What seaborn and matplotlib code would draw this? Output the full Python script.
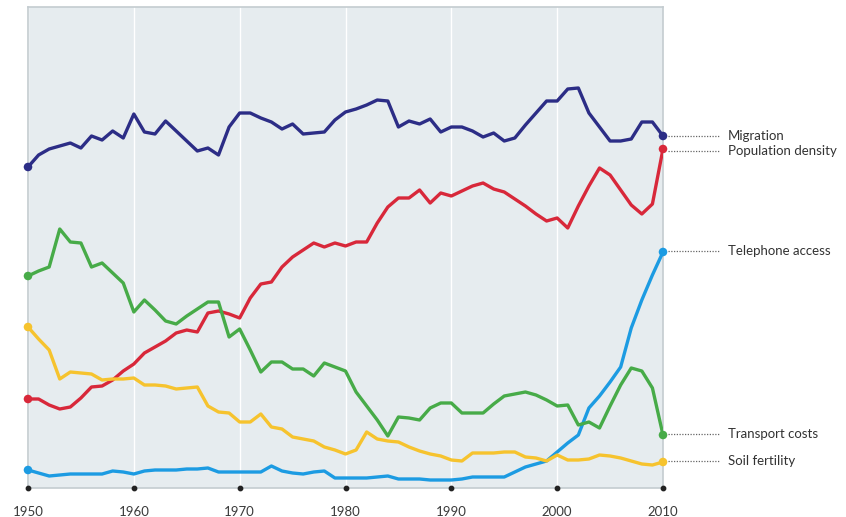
import numpy as np
import pandas as pd
import matplotlib
matplotlib.use("Agg")
import matplotlib.pyplot as plt
import matplotlib.transforms as mtransforms
import seaborn as sns

years = list(range(1950, 2011))

migration = [333, 345, 351, 354, 357, 352, 364, 360, 369, 362,
             386, 368, 366, 379, 369, 359, 349, 352, 345, 373,
             387, 387, 382, 378, 371, 376, 366, 367, 368, 380,
             388, 391, 395, 400, 399, 373, 379, 376, 381, 368,
             373, 373, 369, 363, 367, 359, 362, 375, 387, 399,
             399, 411, 412, 387, 373, 359, 359, 361, 378, 378,
             364]

population_density = [101, 101, 95, 91, 93, 102, 113, 114, 120, 129,
                      136, 147, 153, 159, 167, 170, 168, 187, 189, 186,
                      182, 202, 216, 218, 233, 243, 250, 257, 253, 257,
                      254, 258, 258, 277, 293, 302, 302, 310, 297, 307,
                      304, 309, 314, 317, 311, 308, 301, 294, 286, 279,
                      282, 272, 294, 314, 332, 325, 310, 295, 286, 296,
                      351]

telephone_access = [30, 27, 24, 25, 26, 26, 26, 26, 29, 28,
                    26, 29, 30, 30, 30, 31, 31, 32, 28, 28,
                    28, 28, 28, 34, 29, 27, 26, 28, 29, 22,
                    22, 22, 22, 23, 24, 21, 21, 21, 20, 20,
                    20, 21, 23, 23, 23, 23, 28, 33, 36, 39,
                    48, 57, 65, 92, 104, 118, 133, 172, 200, 225,
                    248]

transport_costs = [224, 229, 233, 271, 258, 257, 233, 237, 227, 217,
                   188, 200, 190, 179, 176, 184, 191, 198, 198, 163,
                   171, 150, 128, 138, 138, 131, 131, 124, 137, 133,
                   129, 108, 94, 80, 64, 83, 82, 80, 92, 97,
                   97, 87, 87, 87, 96, 104, 106, 108, 105, 100,
                   94, 95, 75, 78, 72, 94, 115, 132, 129, 112,
                   65]

soil_fertility = [173, 161, 150, 121, 128, 127, 126, 120, 121, 121,
                  122, 115, 115, 114, 111, 112, 113, 94, 88, 87,
                  78, 78, 86, 73, 71, 63, 61, 59, 53, 50,
                  46, 50, 68, 61, 59, 58, 53, 49, 46, 44,
                  40, 39, 47, 47, 47, 48, 48, 43, 42, 39,
                  45, 40, 40, 41, 45, 44, 42, 39, 36, 35,
                  38]

series_names = ["Migration", "Population density", "Telephone access",
                "Transport costs", "Soil fertility"]
series_values = [migration, population_density, telephone_access,
                 transport_costs, soil_fertility]
label_values = [364, 349, 249, 66, 39]
colors = ["#2c2d86", "#d8283a", "#1c9be2", "#47ab48", "#f6c32e"]
decade_ticks = [1950, 1960, 1970, 1980, 1990, 2000, 2010]

df = pd.concat([pd.DataFrame({"year": years, "value": v, "series": n})
                for n, v in zip(series_names, series_values)],
               ignore_index=True)
ends = df[df["year"].isin([years[0], years[-1]])]

sns.set_theme(style="white")
plt.rcParams["font.family"] = ["Lato", "DejaVu Sans"]

fig = plt.figure(figsize=(8.46, 5.17), dpi=100)
ax = fig.add_axes([28 / 846, 1 - 488 / 517, (663 - 28) / 846, (488 - 7) / 517])
ax.set_facecolor("#e6ecef")

for t in decade_ticks:
    ax.axvline(t, color="white", lw=1.0, zorder=0)

pal = dict(zip(series_names, colors))
sns.lineplot(data=df, x="year", y="value", hue="series", palette=pal,
             linewidth=2.4, legend=False, ax=ax, zorder=3)
sns.scatterplot(data=ends, x="year", y="value", hue="series", palette=pal,
                s=38, linewidth=0, legend=False, ax=ax, zorder=4, clip_on=False)

ax.set_xlim(1950, 2010)
ax.set_ylim(12, 493)
ax.set_xlabel("")
ax.set_ylabel("")
ax.set_yticks([])
ax.set_xticks(decade_ticks)
ax.set_xticklabels([str(t) for t in decade_ticks])
ax.tick_params(axis="x", length=0, pad=13, labelsize=9.5, labelcolor="#3a3a3a")

# decade dots on axis
ax.scatter(decade_ticks, [12] * len(decade_ticks), s=10, color="#222222",
           zorder=5, clip_on=False)

for side in ["left", "right", "top", "bottom"]:
    ax.spines[side].set_visible(True)
    ax.spines[side].set_color("#c4ccd0")
    ax.spines[side].set_linewidth(1.2)

trans = mtransforms.blended_transform_factory(ax.transAxes, ax.transData)
for name, yv in zip(series_names, label_values):
    ax.plot([1.008, 1.088], [yv, yv], transform=trans, clip_on=False,
            color="#666666", lw=0.9, linestyle=(0, (1, 1.2)))
    ax.text(1.1024, yv, name, transform=trans, va="center", ha="left",
            fontsize=9.5, color="#333333")

fig.savefig("out.png", dpi=100)
